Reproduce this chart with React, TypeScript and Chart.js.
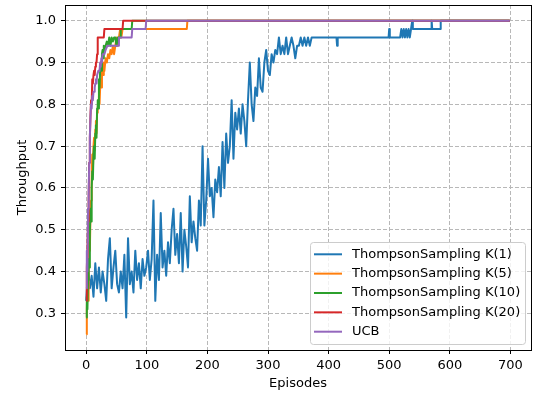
import React, { useEffect, useRef } from "react";
import { Chart, registerables } from "chart.js";

Chart.register(...registerables);

// ---------- data ----------
const seriesLabels = [
  "ThompsonSampling K(1)",
  "ThompsonSampling K(5)",
  "ThompsonSampling K(10)",
  "ThompsonSampling K(20)",
  "UCB",
];
const seriesColors = ["#1f77b4", "#ff7f0e", "#2ca02c", "#d62728", "#9467bd"];

const xTickValues = [0, 100, 200, 300, 400, 500, 600, 700];
const yTickValues = [0.3, 0.4, 0.5, 0.6, 0.7, 0.8, 0.9, 1.0];

const k1Episodes = [
  0, 3, 6, 9, 12, 15, 18, 21, 24, 27, 30, 33, 36, 39, 42, 45, 48, 51, 54, 57,
  60, 63, 66, 69, 72, 75, 78, 81, 84, 87, 90, 93, 96, 99, 102, 105, 108, 111, 114, 117,
  120, 123, 126, 129, 132, 135, 138, 141, 144, 147, 150, 153, 156, 159, 162, 165, 168, 171, 174, 177,
  180, 183, 186, 189, 192, 195, 198, 201, 204, 207, 210, 213, 216, 219, 222, 225, 228, 231, 234, 237,
  240, 243, 246, 249, 252, 255, 258, 261, 264, 267, 270, 273, 276, 279, 282, 285, 288, 291, 294, 297,
  300, 303, 306, 309, 312, 315, 318, 321, 324, 327, 330, 333, 336, 339, 342, 345, 348, 351, 354, 357,
  360, 363, 366, 369, 372,
  413, 414, 415, 499, 500, 501, 518, 520, 522, 524, 526, 528, 530, 532, 534, 536, 538, 539,
  569, 570, 571, 584, 585, 699,
];
const k1Values = [
  0.33, 0.41, 0.36, 0.39, 0.34, 0.42, 0.36, 0.41, 0.35, 0.40, 0.37, 0.33, 0.43, 0.48, 0.36, 0.41, 0.45, 0.37, 0.35, 0.40,
  0.36, 0.44, 0.29, 0.48, 0.37, 0.40, 0.35, 0.45, 0.38, 0.42, 0.36, 0.43, 0.39, 0.41, 0.45, 0.38, 0.43, 0.57, 0.33, 0.44,
  0.38, 0.54, 0.41, 0.45, 0.39, 0.47, 0.42, 0.50, 0.55, 0.44, 0.49, 0.42, 0.54, 0.40, 0.50, 0.46, 0.41, 0.58, 0.47, 0.52,
  0.48, 0.45, 0.57, 0.51, 0.70, 0.51, 0.57, 0.67, 0.58, 0.60, 0.53, 0.62, 0.59, 0.65, 0.58, 0.71, 0.60, 0.73, 0.66, 0.70,
  0.81, 0.67, 0.78, 0.74, 0.79, 0.73, 0.80, 0.76, 0.70, 0.81, 0.90, 0.80, 0.76, 0.84, 0.82, 0.91, 0.84, 0.83, 0.90, 0.93,
  0.88, 0.87, 0.92, 0.90, 0.93, 0.92, 0.96, 0.92, 0.94, 0.92, 0.96, 0.92, 0.94, 0.96, 0.94, 0.91, 0.94, 0.94, 0.96, 0.94,
  0.96, 0.94, 0.96, 0.94, 0.96,
  0.96, 0.94, 0.96, 0.96, 0.98, 0.96, 0.96, 0.98, 0.96, 0.98, 0.96, 0.98, 0.96, 0.98, 0.96, 0.98, 1.0, 0.98,
  0.98, 1.0, 0.98, 0.98, 1.0, 1.0,
];

const k5Episodes = [
  0, 1, 2, 3, 4, 5, 6, 7, 8, 9, 10, 11, 12, 13, 14, 15, 16, 17, 18, 19, 20, 21, 22, 23, 24, 25, 26, 27, 28, 29, 30,
  32, 34, 36, 38, 40, 42, 44, 46, 48, 50, 52, 54, 56, 58, 60,
  166, 167, 699,
];
const k5Values = [
  0.25, 0.31, 0.36, 0.33, 0.42, 0.47, 0.45, 0.53, 0.57, 0.62, 0.68, 0.64, 0.70, 0.72, 0.69, 0.74, 0.76, 0.73, 0.78, 0.79,
  0.81, 0.82, 0.80, 0.84, 0.86, 0.84, 0.88, 0.89, 0.87, 0.90, 0.88,
  0.91, 0.90, 0.92, 0.91, 0.93, 0.92, 0.94, 0.92, 0.94, 0.96, 0.94, 0.96, 0.98, 0.96, 0.98,
  0.98, 1.0, 1.0,
];

const k10Episodes = [
  0, 1, 2, 3, 4, 5, 6, 7, 8, 9, 10, 11, 12, 13, 14, 15, 16, 17, 18, 19, 20, 21, 22, 23, 24, 25, 26, 27, 28, 29, 30,
  32, 34, 36, 38, 40, 42, 44, 46, 48, 50, 52, 54, 56,
  57, 75, 76, 699,
];
const k10Values = [
  0.29, 0.34, 0.31, 0.38, 0.43, 0.41, 0.49, 0.55, 0.52, 0.60, 0.64, 0.62, 0.68, 0.70, 0.67, 0.73, 0.75, 0.72, 0.79, 0.81,
  0.79, 0.86, 0.84, 0.88, 0.90, 0.88, 0.92, 0.93, 0.91, 0.94, 0.93,
  0.94, 0.95, 0.94, 0.96, 0.94, 0.96, 0.95, 0.96, 0.96, 0.94, 0.96, 0.96, 0.96,
  0.98, 0.98, 1.0, 1.0,
];

const k20Episodes = [
  0, 1, 2, 3, 4, 5, 6, 7, 8, 9, 10, 11, 12, 13, 14, 15, 16, 17, 18, 19, 20,
  29, 30, 60, 61, 699,
];
const k20Values = [
  0.33, 0.41, 0.45, 0.52, 0.57, 0.66, 0.72, 0.77, 0.81, 0.80, 0.86, 0.85, 0.87, 0.88, 0.87, 0.89, 0.90, 0.90, 0.92, 0.96, 0.96,
  0.96, 0.98, 0.98, 1.0, 1.0,
];

const ucbEpisodes = [
  0, 1, 2, 3, 4, 5, 6, 7, 8, 9, 10, 11, 12, 13, 14, 15, 16, 17, 18, 19, 20,
  22, 23, 24, 25, 26, 27, 28, 30, 32, 35, 53, 54, 75, 76, 98, 99, 699,
];
const ucbValues = [
  0.36, 0.45, 0.40, 0.55, 0.59, 0.66, 0.72, 0.77, 0.80, 0.79, 0.82, 0.81, 0.83, 0.83, 0.84, 0.85, 0.86, 0.85, 0.87, 0.87, 0.88,
  0.88, 0.90, 0.89, 0.91, 0.90, 0.92, 0.92, 0.92, 0.93, 0.94, 0.94, 0.96, 0.96, 0.98, 0.98, 1.0, 1.0,
];

const seriesEpisodes = [k1Episodes, k5Episodes, k10Episodes, k20Episodes, ucbEpisodes];
const seriesValues = [k1Values, k5Values, k10Values, k20Values, ucbValues];

// ---------- chart ----------
const FONT = "'DejaVu Sans', 'Liberation Sans', sans-serif";

const framePlugin = {
  id: "mplFrame",
  afterDatasetsDraw(chart: any) {
    const { ctx, chartArea } = chart;
    const { left, top, right, bottom } = chartArea;
    ctx.save();
    ctx.strokeStyle = "#000";
    ctx.lineWidth = 1;
    ctx.strokeRect(left + 0.5, top + 0.5, right - left, bottom - top);
    ctx.restore();
  },
};

const legendPlugin = {
  id: "mplLegend",
  afterDraw(chart: any) {
    const { ctx, chartArea } = chart;
    const w = 215;
    const h = 102;
    const x0 = chartArea.right - 6 - w + 0.5;
    const y0 = chartArea.bottom - 6 - h + 0.5;
    ctx.save();
    ctx.beginPath();
    if (ctx.roundRect) ctx.roundRect(x0, y0, w, h, 3);
    else ctx.rect(x0, y0, w, h);
    ctx.fillStyle = "rgba(255,255,255,0.8)";
    ctx.fill();
    ctx.strokeStyle = "#cccccc";
    ctx.lineWidth = 1;
    ctx.stroke();
    ctx.font = `13px ${FONT}`;
    ctx.textBaseline = "middle";
    ctx.textAlign = "left";
    chart.data.datasets.forEach((ds: any, i: number) => {
      const y = y0 + 11.8 + i * 19.35;
      ctx.beginPath();
      ctx.moveTo(x0 + 3.5, y);
      ctx.lineTo(x0 + 31.5, y);
      ctx.strokeStyle = ds.borderColor;
      ctx.lineWidth = 2;
      ctx.stroke();
      ctx.fillStyle = "#000";
      ctx.fillText(ds.label, x0 + 41.5, y);
    });
    ctx.restore();
  },
};

export default function App() {
  const ref = useRef<HTMLCanvasElement>(null);

  useEffect(() => {
    if (!ref.current) return;
    const datasets = seriesLabels.map((label, i) => ({
      label,
      data: seriesEpisodes[i].map((x, j) => ({ x, y: seriesValues[i][j] })),
      borderColor: seriesColors[i],
      backgroundColor: seriesColors[i],
      borderWidth: 2,
      borderJoinStyle: "round",
      borderCapStyle: "butt",
      pointRadius: 0,
      tension: 0,
      fill: false,
      order: seriesLabels.length - i,
    }));

    const chart = new Chart(ref.current, {
      type: "line",
      data: { datasets },
      options: {
        animation: false,
        responsive: false,
        maintainAspectRatio: false,
        events: [],
        layout: { padding: { top: 5, right: 6, left: 0, bottom: 0 } },
        plugins: {
          legend: { display: false },
          tooltip: { enabled: false },
        },
        scales: {
          x: {
            type: "linear",
            min: -35,
            max: 734,
            afterBuildTicks: (s: any) => {
              s.ticks = xTickValues.map((v) => ({ value: v }));
            },
            afterFit: (s: any) => {
              s.height = 43;
              s.paddingLeft = 0;
              s.paddingRight = 0;
            },
            ticks: {
              autoSkip: false,
              maxRotation: 0,
              padding: 4,
              color: "#000",
              font: { family: FONT, size: 13 },
              callback: (v: any) => String(v),
            },
            grid: {
              color: "#b8b8b8",
              lineWidth: 1,
              tickLength: 4,
              tickColor: "#000",
              tickWidth: 1,
            },
            border: { display: false, dash: [4, 2] },
            title: {
              display: true,
              text: "Episodes",
              color: "#000",
              font: { family: FONT, size: 13 },
              padding: { top: 0, bottom: 2 },
            },
          },
          y: {
            type: "linear",
            min: 0.2125,
            max: 1.0375,
            afterBuildTicks: (s: any) => {
              s.ticks = yTickValues.map((v) => ({ value: v }));
            },
            afterFit: (s: any) => {
              s.width = 65;
              s.paddingTop = 0;
              s.paddingBottom = 0;
            },
            ticks: {
              autoSkip: false,
              padding: 5,
              color: "#000",
              font: { family: FONT, size: 13 },
              callback: (v: any) => Number(v).toFixed(1),
            },
            grid: {
              color: "#b8b8b8",
              lineWidth: 1,
              tickLength: 4,
              tickColor: "#000",
              tickWidth: 1,
            },
            border: { display: false, dash: [4, 2] },
            title: {
              display: true,
              text: "Throughput",
              color: "#000",
              font: { family: FONT, size: 13 },
              padding: { top: 15, bottom: 0 },
            },
          },
        },
      } as any,
      plugins: [framePlugin, legendPlugin],
    });
    return () => chart.destroy();
  }, []);

  return (
    <div
      style={{
        position: "fixed",
        left: 0,
        top: 0,
        width: 537,
        height: 393,
        background: "#fff",
      }}
    >
      <canvas
        ref={ref}
        width={537}
        height={393}
        style={{ display: "block", width: 537, height: 393 }}
      />
    </div>
  );
}
